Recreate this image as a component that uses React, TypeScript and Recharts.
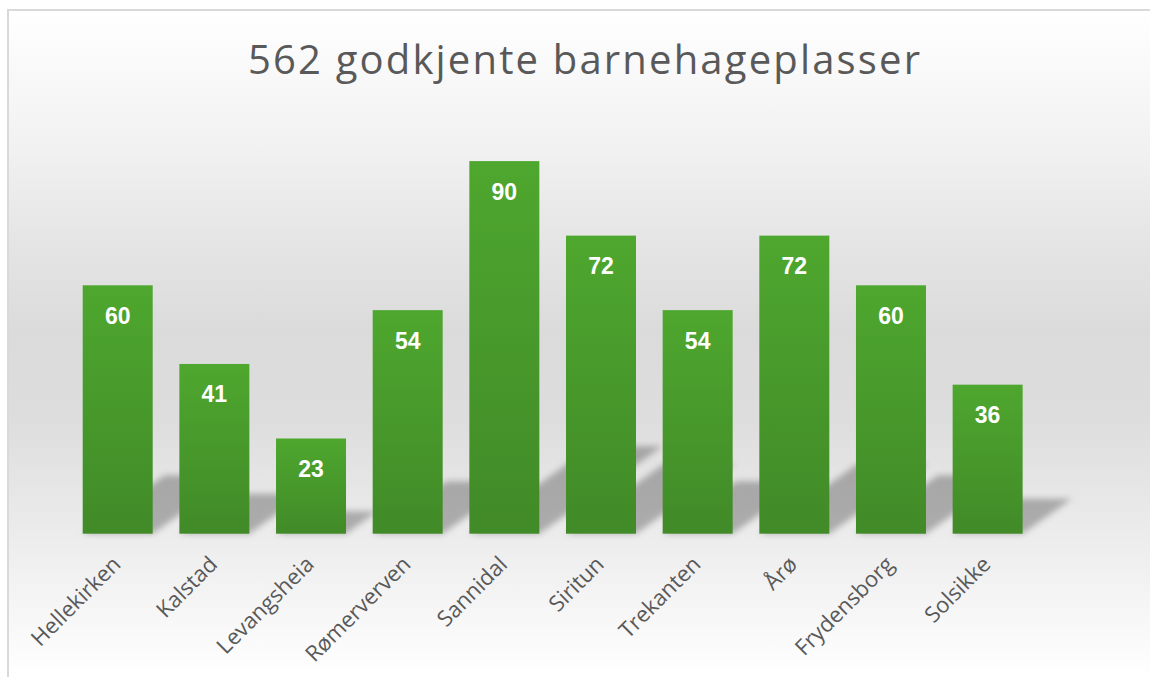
import React from 'react';
import { BarChart, Bar, XAxis, YAxis, LabelList } from 'recharts';

const categories = ['Hellekirken', 'Kalstad', 'Levangsheia', 'Rømerverven', 'Sannidal', 'Siritun', 'Trekanten', 'Årø', 'Frydensborg', 'Solsikke'];
const places = [60, 41, 23, 54, 90, 72, 54, 72, 60, 36];
const yTicks = [0, 20, 40, 60, 80, 100];
const chartTitle = '562 godkjente barnehageplasser';

const data = categories.map((name, i) => ({ name, value: places[i] }));

const W = 1141;
const H = 666;

const BarShape = (props: any) => {
  const { x, y, width, height } = props;
  if (height == null || height <= 0) return null;
  const by = y + height;
  const dx = height * 0.33;
  const dy = height * 0.235;
  const pts = `${x},${by} ${x + width},${by} ${x + width + dx},${by - dy} ${x + dx},${by - dy}`;
  return (
    <g>
      <polygon points={pts} fill="#000" fillOpacity={0.27} filter="url(#shadowBlur)" />
      <rect x={x} y={y} width={width} height={height} fill="url(#barGrad)" />
    </g>
  );
};

const CatTick = (props: any) => {
  const { x, y, payload } = props;
  const ax = x + 4;
  const ay = y + 32;
  return (
    <text
      x={ax}
      y={ay}
      transform={`rotate(-45, ${ax}, ${ay})`}
      textAnchor="end"
      fill="#595959"
      fontSize={22}
      fontFamily="'Open Sans', sans-serif"
    >
      {payload.value}
    </text>
  );
};

const ValueLabel = (props: any) => {
  const { x, y, width, value } = props;
  return (
    <text
      x={x + width / 2}
      y={y + 38.5}
      textAnchor="middle"
      fill="#ffffff"
      fontSize={23}
      fontWeight="bold"
      fontFamily="'Liberation Sans', Arial, sans-serif"
    >
      {value}
    </text>
  );
};

export default function App() {
  return (
    <>
      <style>{'html{overflow:hidden;}'}</style>
      <div
        style={{
          position: 'fixed',
          top: 9,
          left: 7,
          width: 1160,
          height: 680,
          borderTop: '2px solid #d9d9d9',
          borderLeft: '2px solid #d9d9d9',
          background:
            'linear-gradient(to bottom, #ffffff 0%, #f1f1f1 20.5%, #e6e6e6 32.5%, #dbdbdb 47%, #dddddd 60%, #ececec 77%, #ffffff 98%)',
          overflow: 'hidden',
        }}
      >
        <svg width={W} height={H} style={{ position: 'absolute', left: 0, top: 0 }}>
          <text
            x={575}
            y={62.5}
            textAnchor="middle"
            fill="#595959"
            fontSize={40}
            fontFamily="'Open Sans', sans-serif"
            textLength={672}
            lengthAdjust="spacing"
          >
            {chartTitle}
          </text>
        </svg>
        <div style={{ position: 'absolute', left: 0, top: 0 }}>
          <BarChart
            width={W}
            height={H}
            data={data}
            margin={{ top: 108.7, right: 113.7, bottom: 113.3, left: 60.7 }}
            barSize={70}
          >
            <defs>
              <linearGradient id="barGrad" x1="0" y1="0" x2="0" y2="1">
                <stop offset="0%" stopColor="#4ea72e" />
                <stop offset="100%" stopColor="#418a28" />
              </linearGradient>
              <filter id="shadowBlur" x="-50%" y="-50%" width="200%" height="200%">
                <feGaussianBlur stdDeviation="3" />
              </filter>
            </defs>
            <XAxis
              dataKey="name"
              height={30}
              axisLine={false}
              tickLine={false}
              tickSize={0}
              tickMargin={0}
              interval={0}
              tick={<CatTick />}
            />
            <YAxis hide domain={[0, 100]} ticks={yTicks} />
            <Bar dataKey="value" shape={<BarShape />} isAnimationActive={false}>
              <LabelList dataKey="value" content={<ValueLabel />} />
            </Bar>
          </BarChart>
        </div>
      </div>
    </>
  );
}
